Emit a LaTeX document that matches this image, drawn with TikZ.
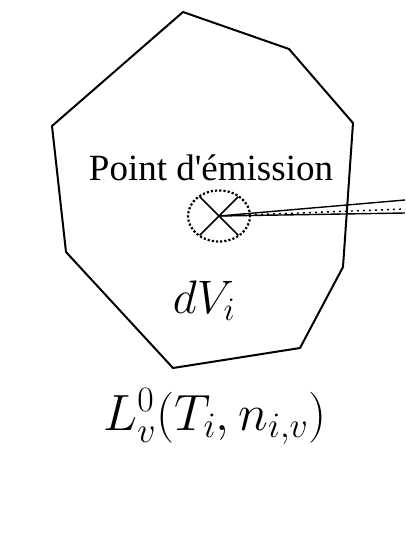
\RequirePackage{fix-cm}
\documentclass[tikz,border=0pt]{standalone}
\usepackage{fontspec}
\newfontfamily\labelfont{Liberation Serif}
\usetikzlibrary{shapes.geometric, shapes.misc}

\begin{document}
\begin{tikzpicture}[x=1pt, y=-1pt,
      cell/.style={draw, line width=2pt, line join=miter},
      beam/.style={line width=1.4pt},
      every node/.style={inner sep=0pt}]
    \useasboundingbox (0,0) rectangle (405,552);
    % control volume
    \draw[cell] (183,12) -- (289,49) -- (353,123) -- (343,267)
        -- (300,348) -- (173,368) -- (66,252) -- (52,126) -- cycle;
    % emission point
    \node[draw, ellipse, dotted, line width=2.2pt, minimum width=62pt,
          minimum height=51pt] (EM) at (219,216) {};
    \node[draw, cross out, line width=1.6pt, minimum size=37pt] (X) at (219,216) {};
    \coordinate (B1) at (405,200);
    \coordinate (B2) at (405,209);
    \coordinate (B3) at (405,213);
    \draw[beam] (X.center) -- (B1);
    \draw[beam, dash pattern=on 2pt off 4pt] (X.center) -- (B2);
    \draw[beam] (X.center) -- (B3);
    % labels
    \node[anchor=base, font=\labelfont\fontsize{37}{40}\selectfont] (PE) at (211,180) {Point d'émission};
    \node[anchor=base, font=\fontsize{47}{50}\selectfont] (DV) at (204,313) {$dV_i$};
    \node[anchor=base, font=\fontsize{51}{55}\selectfont] (LV) at (215,430) {$L_v^0(T_i, n_{i,v})$};
\end{tikzpicture}
\end{document}
